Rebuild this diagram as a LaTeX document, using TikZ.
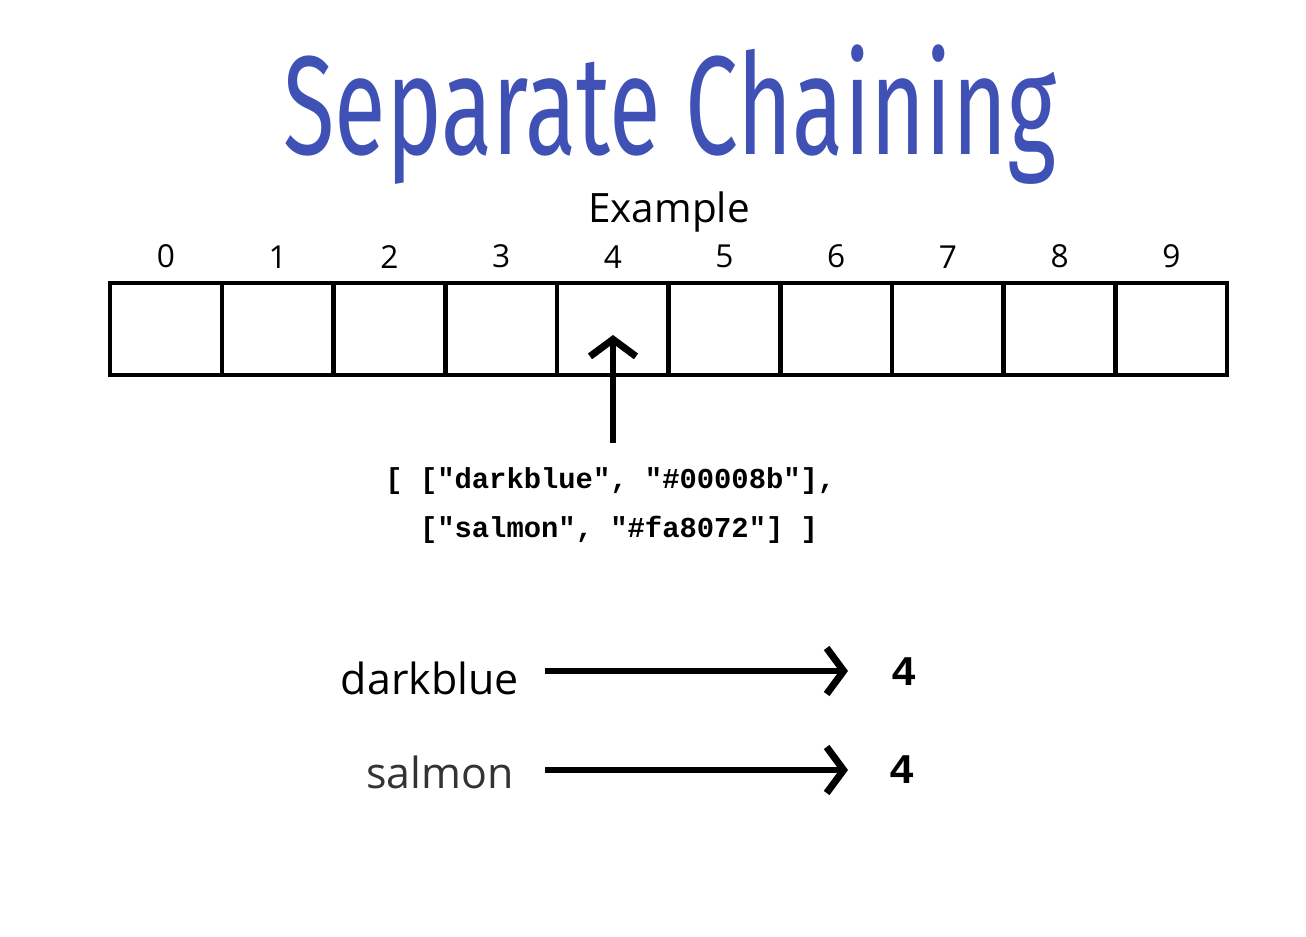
\documentclass[tikz,border=0pt]{standalone}
\usepackage{fontspec}
\setmainfont{Open Sans}
\newfontfamily\titlefont{Fira Sans}
\newfontfamily\codefont{Liberation Mono}
\usepackage{tikz}
\usetikzlibrary{arrows.meta, positioning}
\definecolor{titleblue}{HTML}{3F51B5}
\tikzset{
  cell/.style   = {draw, line width=1.3pt, minimum width=1.117cm, minimum height=0.92cm, inner sep=0pt},
  idx/.style    = {font=\fontsize{9}{10}\selectfont},
  code/.style   = {font=\codefont\bfseries\fontsize{8.2}{10}\selectfont, align=left, anchor=west},
  key/.style    = {font=\fontsize{12.2}{14}\selectfont, anchor=east},
  hasharrow/.style = {line width=1.8pt, -{Straight Barb[length=1.7mm, width=4.6mm, line width=2pt]}},
}
\begin{document}
\begin{tikzpicture}[x=0.01cm, y=-0.01cm]
\useasboundingbox (0,0) rectangle (1306,936);

\node [font=\titlefont\fontsize{40}{46}\selectfont, text=titleblue] (title) at (670,115) {\scalebox{0.67}[1]{Separate Chaining}};
\node [font=\fontsize{11.5}{13}\selectfont] (example) at (669,212) {Example};

\foreach \i in {0,...,9} {
  \node [cell] (c\i) at (166+111.7*\i,329) {};
  \node [idx, above=0pt of c\i] (n\i) {\i};
}

\coordinate (base) at (613,443);
\coordinate (tip)  at (613,335);
\draw [hasharrow] (base) -- (tip);

\node [code] (line1) at (373,481) {[ ["darkblue", "\#00008b"],};
\node [code] (line2) at (373,530) {\phantom{[ }["salmon", "\#fa8072"] ]};

\node [key] (dark) at (531,678) {darkblue};
\node [key, text=black!80] (salm) at (526,772) {salmon};
\node [font=\codefont\bfseries\fontsize{12}{14}\selectfont] (h1) at (904,672) {4};
\node [font=\codefont\bfseries\fontsize{12}{14}\selectfont] (h2) at (902,770) {4};

\draw [hasharrow] (545,671) -- (848,671);
\draw [hasharrow] (545,770) -- (848,770);

\end{tikzpicture}
\end{document}
